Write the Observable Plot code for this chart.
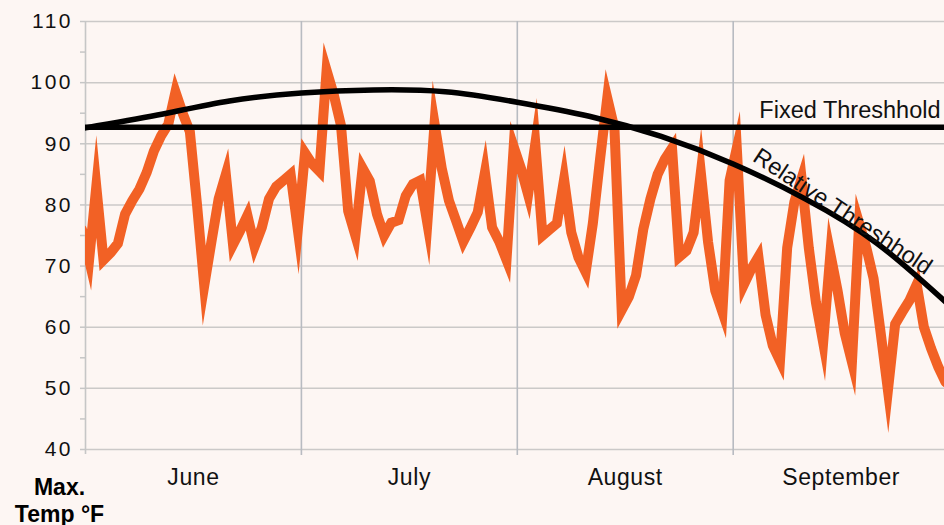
<!DOCTYPE html>
<html>
<head>
<meta charset="utf-8">
<script src="https://cdn.jsdelivr.net/npm/d3@7"></script>
<script src="https://cdn.jsdelivr.net/npm/@observablehq/plot@0.6"></script>
<style>
  html, body { margin: 0; padding: 0; background: #fdf6f3; }
  #chart svg { display: block; }
  #chart g[aria-label^="y-axis"] text { font-size: 21px; letter-spacing: 2.5px; }
  #chart g[aria-label^="x-axis"] text { font-size: 23px; letter-spacing: 0.6px; }
</style>
</head>
<body>
<div id="chart"></div>
<script>
// Daily maximum temperature (°F), one value per day starting the day before June 1
const firstDay = -1;
const maxTemp = [
  76, 71, 83, 71, 72.2, 73.7, 78.5, 80.7, 82.6, 85.3, 88.8,
  91.3, 93.2, 98.5, 95, 92, 80, 66.8, 74, 81, 85,
  73.5, 75.8, 78.3, 73.2, 76.3, 81, 83, 84, 85, 76,
  88.5, 86.7, 85.5, 102, 98, 93, 79, 75, 86, 83.9,
  78.5, 75, 77.1, 77.5, 81.5, 83.4, 84, 77, 93.3, 86,
  80.7, 77.4, 74, 76.3, 78.8, 85.3, 76.3, 74, 71, 89.5,
  86, 81.7, 90, 75, 76, 77, 84.2, 75.5, 71.4, 69,
  77, 87.5, 97.5, 92.5, 62.8, 65, 68.5, 76, 81, 85,
  87.5, 89.3, 71.5, 72.5, 75.5, 85.3, 74, 66, 62.5, 84,
  89.3, 67, 69.5, 71.5, 62, 57, 54.5, 73, 80.5, 84.3,
  73, 64, 57.5, 72, 66, 59, 54.3, 77, 73, 68,
  59, 49.7, 60.5, 62.5, 64.4, 67, 60, 56.5, 53.5, 51
];

// Relative threshold read at every 10th day
const relDays = [0, 10, 20, 30, 40, 50, 60, 70, 80, 90, 100, 110, 120];
const relTemp = [92.6, 94.7, 97.0, 98.3, 98.8, 98.5, 96.8, 94.5, 91.2, 86.7, 81.0, 73.7, 63.6];

const fixedThreshold = 92.7;

const monthStarts = [0, 30, 60, 90];
const monthMids = [15, 45, 75, 105];
const monthNames = ["June", "July", "August", "September"];

const yTicks = [40, 45, 50, 55, 60, 65, 70, 75, 80, 85, 90, 95, 100, 105, 110];
const yGrid = [40, 50, 60, 70, 80, 90, 100, 110];

const lastDay = 119.36;

// Build tables for the library
const temps = maxTemp.map((t, k) => ({day: firstDay + k + 0.5, temp: t}));
const rel = relDays.map((d, k) => ({day: d, temp: relTemp[k]}));

const font = "'Liberation Sans', Arial, Helvetica, sans-serif";

const chart = Plot.plot({
  width: 944,
  height: 525,
  marginLeft: 85,
  marginRight: 0,
  marginTop: 21,
  marginBottom: 76,
  style: {background: "#fdf6f3", fontFamily: font, fontSize: "22px", color: "#111", overflow: "visible"},
  x: {domain: [0, lastDay], ticks: monthMids, tickFormat: (d) => monthNames[monthMids.indexOf(d)], tickSize: 0, tickPadding: 19, label: null},
  y: {domain: [40, 110], ticks: yGrid, tickFormat: d => String(d), tickSize: 0, tickPadding: 12.5, label: null},
  marks: [
    Plot.ruleY(yGrid, {stroke: "#cbc9c8", strokeWidth: 1.5}),
    Plot.ruleX(monthStarts.slice(1), {stroke: "#b8bbc1", strokeWidth: 1.6, insetBottom: -6}),
    Plot.ruleX([0], {stroke: "#c6c6c6", strokeWidth: 1.6, insetBottom: -5}),
    Plot.ruleY(yTicks, {x1: 0, x2: 0, insetLeft: -5, stroke: "#c6c6c6", strokeWidth: 1.5}),
    Plot.line(temps, {x: "day", y: "temp", stroke: "#f26125", strokeWidth: 10, strokeLinejoin: "miter", strokeMiterlimit: 40, clip: true}),
    Plot.ruleY([fixedThreshold], {stroke: "#000", strokeWidth: 5.5}),
    Plot.line(rel, {x: "day", y: "temp", curve: "natural", stroke: "#000", strokeWidth: 5.5, clip: true}),
    Plot.text(["Fixed Threshhold"], {x: lastDay, y: fixedThreshold, text: d => d, textAnchor: "end", dx: -4, dy: -17, fontSize: 23.5, fill: "#111"}),
    Plot.text(["Relative Threshhold"], {x: 105.2, y: 77.6, text: d => d, rotate: 33.5, dx: 0, dy: -8, fontSize: 23.5, fill: "#111"}),
    Plot.text(["Max.\nTemp °F"], {frameAnchor: "bottom-left", text: d => d, textAnchor: "middle", dx: -26, dy: 26, lineAnchor: "top", lineHeight: 1.17, fontSize: 23, fontWeight: "bold", fill: "#000", letterSpacing: "0.5px"})
  ]
});

document.getElementById("chart").appendChild(chart);
</script>
</body>
</html>
